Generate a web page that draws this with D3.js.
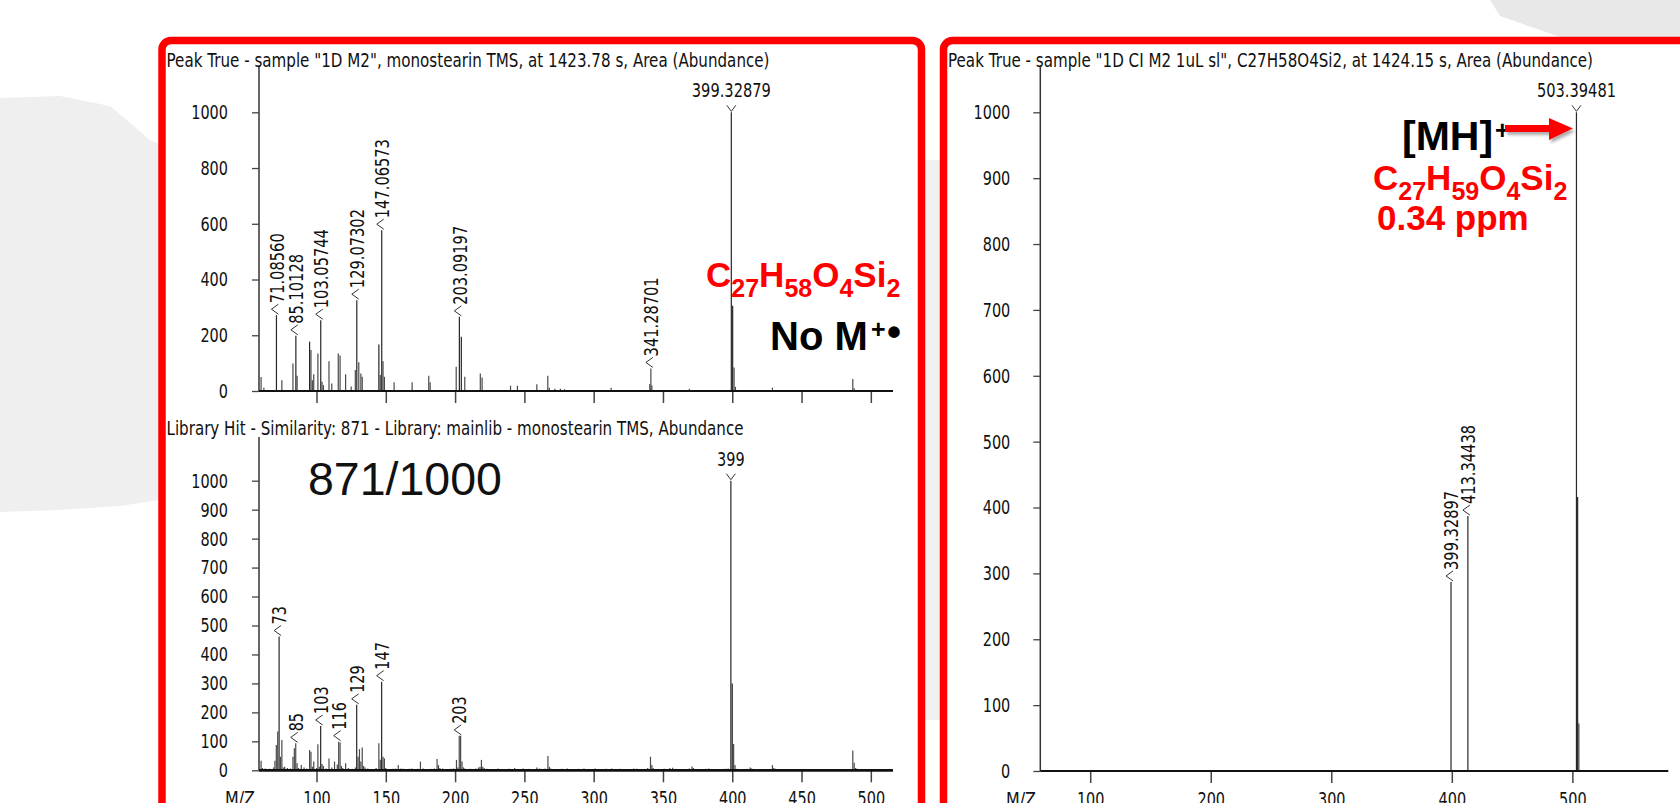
<!DOCTYPE html>
<html><head><meta charset="utf-8">
<script src="https://cdn.jsdelivr.net/npm/d3@7"></script>
<style>body{margin:0;background:#fff;overflow:hidden}svg{display:block}</style>
</head><body><svg id="c" width="1680" height="803"></svg>
<script>
// ---------- DATA ----------
// Top-left: Peak True sample spectrum [m/z, abundance]
const samplePeaks = [[60,50],[62,12],[71.0856,272],[75,39],[83,99],[85.10128,198],[86,55],[95,177],[96,147],[97,39],[98,60],[101,135],[103.05744,254],[104,33],[105,21],[109,107],[111,27],[115.7,135],[117,127],[121,60],[125,16],[128,75],[129.07302,326],[130.5,103],[132,63],[133,51],[145,167],[146,57],[147.06573,577],[148,107],[149,51],[156,31],[169,31],[181,55],[182,31],[200.8,87],[203.09197,266],[204.5,195],[207,51],[218.2,63],[219.5,48],[240,19],[245,19],[259,24],[266.9,55],[268,12],[272,8],[276,8],[279,6],[312.6,12],[340.5,25],[341.28701,81],[342,20],[369,8],[399.32879,1000],[400.3,306],[401.3,84],[402.3,15],[429,12],[487,43],[488,10]];
const sampleLabels = [["71.08560",1],["85.10128",1],["103.05744",1],["129.07302",1],["147.06573",1],["203.09197",1],["341.28701",1],["399.32879",0]];

// Bottom-left: library hit spectrum
const libPeaks = [[60,33],[61,8],[63,6],[66,5],[69,10],[70,33],[71,87],[72,134],[73,462],[74,47],[75,105],[76,10],[77,12],[79,8],[81,6],[83,47],[84,76],[85,93],[86,24],[87,8],[89,18],[91,10],[93,6],[95,70],[96,64],[97,12],[98,30],[100,8],[101,90],[102,12],[103,153],[104,22],[105,15],[107,6],[109,41],[111,10],[113,30],[115,20],[116,99],[117,96],[118,15],[119,8],[121,24],[123,8],[126,5],[128,10],[129,226],[130,47],[131,73],[132,30],[133,79],[134,15],[135,10],[137,6],[143,8],[145,93],[146,36],[147,306],[148,47],[149,41],[150,8],[155,5],[157,6],[159,18],[161,6],[163,5],[167,5],[169,6],[173,5],[175,30],[177,6],[183,5],[185,6],[187,39],[188,18],[189,8],[191,6],[197,5],[199,6],[201,36],[202,10],[203,119],[204,119],[205,30],[206,10],[207,6],[211,5],[215,6],[217,10],[218,12],[219,36],[220,12],[221,8],[223,5],[231,6],[239,5],[243,8],[249,6],[253,5],[259,10],[261,6],[265,6],[267,49],[268,12],[269,6],[277,5],[281,6],[289,5],[293,6],[301,6],[309,5],[313,6],[319,5],[329,6],[331,5],[339,8],[341,47],[342,18],[343,8],[351,5],[355,8],[357,9],[359,5],[369,6],[371,13],[372,8],[381,5],[383,6],[395,5],[397,6],[399,1000],[400,300],[401,91],[402,18],[403,5],[411,5],[413,10],[414,6],[429,18],[430,8],[431,5],[487,68],[488,26],[489,8],[490,5]];
const libLabels = [["73",1],["85",1],["103",1],["116",1],["129",1],["147",1],["203",1],["399",0]];

// Right: CI spectrum
const ciPeaks = [[399.32897,287],[413.34438,387],[503.39481,1000],[504.4,416],[505.4,72]];
const ciLabels = [["399.32897",1],["413.34438",1],["503.39481",0]];

// Tick values
const yTicksTop = [0,200,400,600,800,1000];
const yTicksLib = [0,100,200,300,400,500,600,700,800,900,1000];
const yTicksCI  = [0,100,200,300,400,500,600,700,800,900,1000];
const xTicksLeft = [100,150,200,250,300,350,400,450,500];
const xTicksCI = [100,200,300,400,500];

// ---------- DRAW ----------
const svg = d3.select('#c');
const FONT = "'DejaVu Sans', Verdana, sans-serif";
const BOLD = "'Liberation Sans', Arial, sans-serif";
function numW(s){let w=0;for(const c of s){w+=(c>='0'&&c<='9')?9.2:(c==='.'?5.5:9.2);}return w;}
function fit(sel,w){sel.attr('textLength',w).attr('lengthAdjust','spacingAndGlyphs');}

// background grey shapes
svg.append('polygon').attr('points','0,98 60,96 110,106 150,140 172,150 172,498 120,506 60,510 0,512').attr('fill','#efefef');
svg.append('polygon').attr('points','1490,0 1680,0 1680,37 1560,37 1500,16').attr('fill','#e8e8e8');
svg.append('rect').attr('x',924).attr('y',160).attr('width',18).attr('height',560).attr('fill','#f1f1f1');

// red panel boxes
svg.append('rect').attr('x',162).attr('y',40.5).attr('width',759.5).attr('height',820).attr('rx',9)
  .attr('fill','#fff').attr('stroke','#ff0000').attr('stroke-width',7.5);
svg.append('rect').attr('x',943.5).attr('y',40.5).attr('width',820).attr('height',820).attr('rx',9)
  .attr('fill','#fff').attr('stroke','#ff0000').attr('stroke-width',7.5);

function spectrum(o){
  const x = d3.scaleLinear().domain(o.xDom).range(o.xRng);
  const y = d3.scaleLinear().domain([0,1000]).range(o.yRng);
  const g = svg.append('g');
  fit(g.append('text').attr('x',o.titleX).attr('y',o.titleY).attr('font-family',FONT)
    .attr('font-size',19.5).attr('fill','#111').text(o.title), o.titleW);
  // y axis
  g.append('line').attr('x1',o.xRng[0]).attr('x2',o.xRng[0]).attr('y1',y(0)).attr('y2',o.yTop)
    .attr('stroke','#333').attr('stroke-width',1.5);
  const yg = g.append('g').attr('transform',`translate(${o.xRng[0]},0)`)
    .call(d3.axisLeft(y).tickValues(o.yTicks).tickFormat(d3.format('d')).tickSize(7).tickPadding(o.yPad));
  yg.select('.domain').remove();
  yg.selectAll('line').attr('stroke','#444').attr('stroke-width',1.3);
  yg.selectAll('text').attr('font-family',FONT).attr('font-size',20).attr('fill','#111')
    .each(function(){const t=d3.select(this);fit(t,numW(t.text()));});
  // x axis
  const xa = d3.axisBottom(x).tickValues(o.xTicks).tickFormat(d3.format('d')).tickSize(12).tickPadding(8.5);
  if(!o.xLabels) xa.tickFormat('');
  const xg = g.append('g').attr('transform',`translate(0,${y(0)})`).call(xa);
  xg.select('.domain').remove();
  xg.selectAll('line').attr('stroke','#444').attr('stroke-width',1.5);
  xg.selectAll('text').attr('font-family',FONT).attr('font-size',20).attr('fill','#111')
    .each(function(){const t=d3.select(this);fit(t,numW(t.text()));});
  if(o.xLabels){
    fit(g.append('text').attr('x',o.mzX).attr('y',y(0)+34.7).attr('text-anchor','middle')
      .attr('font-family',FONT).attr('font-size',20).attr('fill','#111').text('M/Z'),30);
  }
  // peaks
  g.selectAll('line.pk').data(o.peaks.slice().sort((a,b)=>a[1]-b[1])).join('line').attr('class','pk')
    .attr('x1',d=>x(d[0])).attr('x2',d=>x(d[0])).attr('y1',y(0)).attr('y2',d=>y(d[1]))
    .attr('stroke',d=>d[1]>150?'#262626':'#4a4a4a').attr('stroke-width',1.2);
  // baseline
  g.append('line').attr('x1',o.xRng[0]).attr('x2',o.xRng[1]).attr('y1',y(0)).attr('y2',y(0))
    .attr('stroke','#111').attr('stroke-width',o.baseW||2.2);
  // labels
  o.labels.forEach(([txt,rot])=>{
    const mz=+txt;
    const pk=o.peaks.reduce((a,b)=>Math.abs(b[0]-mz)<Math.abs(a[0]-mz)?b:a);
    const px=x(pk[0]), top=y(pk[1]);
    if(rot){
      g.append('path').attr('d',`M${px+2},${top-11}L${px-5},${top-6}L${px+2},${top-1}`)
        .attr('fill','none').attr('stroke','#333').attr('stroke-width',1);
      fit(g.append('text').attr('transform',`translate(${px},${top-12}) rotate(-90)`)
        .attr('dy','0.36em').attr('font-family',FONT).attr('font-size',20).attr('fill','#111').text(txt), numW(txt));
    } else {
      g.append('path').attr('d',`M${px-4.5},${top-7}L${px},${top-1}L${px+4.5},${top-7}`)
        .attr('fill','none').attr('stroke','#333').attr('stroke-width',1);
      fit(g.append('text').attr('x',px).attr('y',top-15).attr('text-anchor','middle')
        .attr('font-family',FONT).attr('font-size',20).attr('fill','#111').text(txt), numW(txt));
    }
  });
  return {x,y,g};
}

spectrum({xDom:[58.5,516], xRng:[259,893], yRng:[391,112.3], yTop:67, yTicks:yTicksTop, yPad:24,
  xTicks:xTicksLeft, xLabels:false, peaks:samplePeaks, labels:sampleLabels,
  title:'Peak True - sample "1D M2", monostearin TMS, at 1423.78 s, Area (Abundance)', titleX:166.5, titleY:67, titleW:603});
spectrum({xDom:[58.5,516], xRng:[259,893], yRng:[770.3,480.7], yTop:437, yTicks:yTicksLib, yPad:24,
  xTicks:xTicksLeft, xLabels:true, mzX:240, peaks:libPeaks, labels:libLabels, baseW:2.8,
  title:'Library Hit - Similarity: 871 - Library: mainlib - monostearin TMS, Abundance', titleX:166.5, titleY:435, titleW:577});
spectrum({xDom:[58.6,579.6], xRng:[1040.3,1668.3], yRng:[771,112.3], yTop:67, yTicks:yTicksCI, yPad:23,
  xTicks:xTicksCI, xLabels:true, mzX:1021, peaks:ciPeaks, labels:ciLabels,
  title:'Peak True - sample "1D CI M2 1uL sl", C27H58O4Si2, at 1424.15 s, Area (Abundance)', titleX:948, titleY:67, titleW:645});

// ---------- ANNOTATIONS ----------
function formula(xp,yb,parts,color){
  const t=svg.append('text').attr('x',xp).attr('y',yb).attr('font-family',BOLD).attr('font-weight','bold').attr('fill',color);
  parts.forEach(([el,n],i)=>{
    t.append('tspan').attr('font-size',35).attr('dy',i===0?0:-9.5).text(el);
    t.append('tspan').attr('font-size',25).attr('dy',9.5).text(n);
  });
}
formula(706,287.3,[['C','27'],['H','58'],['O','4'],['Si','2']],'#ff0000');
svg.append('text').attr('x',770).attr('y',350).attr('font-family',BOLD).attr('font-weight','bold')
  .attr('font-size',40).attr('fill','#000').text('No M');
svg.append('text').attr('x',871).attr('y',338).attr('font-family',BOLD).attr('font-weight','bold')
  .attr('font-size',25).attr('fill','#000').text('+');
svg.append('text').attr('x',887).attr('y',346).attr('font-family',BOLD).attr('font-weight','bold')
  .attr('font-size',40).attr('fill','#000').text('•');

svg.append('text').attr('x',308).attr('y',495).attr('font-family',BOLD)
  .attr('font-size',46.5).attr('fill','#111').text('871/1000');

// right annotations
const defs=svg.append('defs');
const f=defs.append('filter').attr('id','sh').attr('x','-20%').attr('y','-50%').attr('width','150%').attr('height','220%');
f.append('feDropShadow').attr('dx',2).attr('dy',3).attr('stdDeviation',1.5).attr('flood-color','#777').attr('flood-opacity',0.6);
svg.append('text').attr('x',1402).attr('y',150).attr('font-family',BOLD).attr('font-weight','bold')
  .attr('font-size',41).attr('fill','#000').text('[MH]');
svg.append('text').attr('x',1495).attr('y',139).attr('font-family',BOLD).attr('font-weight','bold')
  .attr('font-size',25).attr('fill','#000').text('+');
svg.append('path').attr('d','M1505,125 L1549,125 L1549,118 L1573,128.5 L1549,140 L1549,132 L1505,132 Z')
  .attr('fill','#ff0000').attr('filter','url(#sh)');
formula(1373,190,[['C','27'],['H','59'],['O','4'],['Si','2']],'#ff0000');
svg.append('text').attr('x',1377).attr('y',230).attr('font-family',BOLD).attr('font-weight','bold')
  .attr('font-size',35).attr('fill','#ff0000').text('0.34 ppm');
</script></body></html>
